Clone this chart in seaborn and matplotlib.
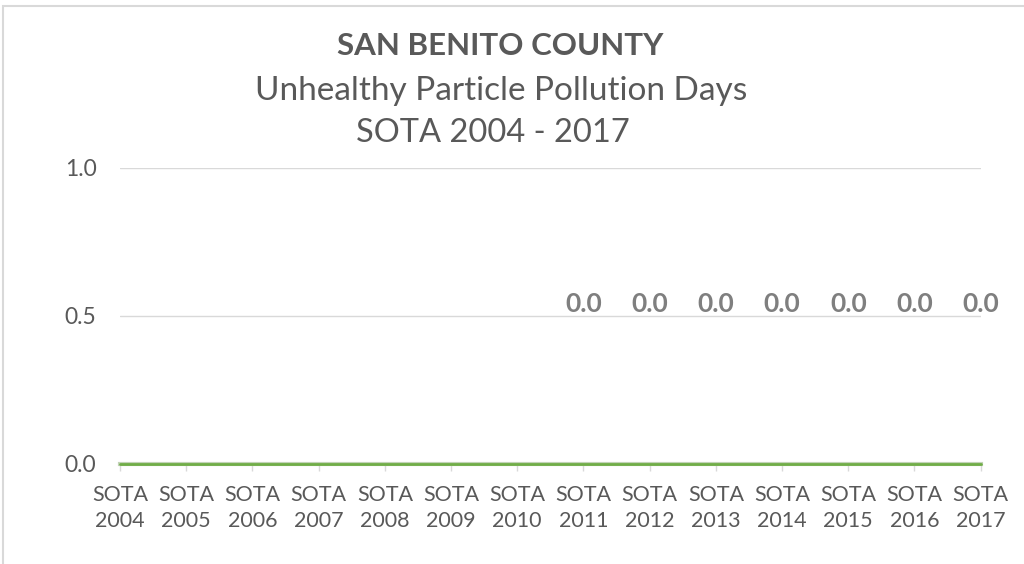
import matplotlib
matplotlib.use("Agg")
import matplotlib.pyplot as plt
import seaborn as sns
import pandas as pd
from matplotlib.patches import Rectangle

years = ["SOTA\n2004", "SOTA\n2005", "SOTA\n2006", "SOTA\n2007", "SOTA\n2008", "SOTA\n2009",
         "SOTA\n2010", "SOTA\n2011", "SOTA\n2012", "SOTA\n2013", "SOTA\n2014", "SOTA\n2015",
         "SOTA\n2016", "SOTA\n2017"]
values = [0, 0, 0, 0, 0, 0, 0, 0, 0, 0, 0, 0, 0, 0]
labels = [None, None, None, None, None, None, None, "0.0", "0.0", "0.0", "0.0", "0.0", "0.0", "0.0"]
yticks = [0.0, 0.5, 1.0]
title_lines = ["SAN BENITO COUNTY", "Unhealthy Particle Pollution Days", "SOTA 2004 - 2017"]

sns.set_style("white")
plt.rcParams['font.family'] = ['Lato', 'DejaVu Sans']

W, H = 1024, 564
fig = plt.figure(figsize=(W / 100, H / 100), dpi=100)
ax = fig.add_axes([120 / W, 1 - 464 / H, (980.7 - 120) / W, (464 - 168) / H])

df = pd.DataFrame({"x": list(range(len(years))), "v": values})
sns.lineplot(data=df, x="x", y="v", ax=ax, color="#70ad47", linewidth=2.0, zorder=5)
for l in ax.lines:
    l.set_clip_on(False)

ax.set_xlim(0, len(years) - 1)
ax.set_ylim(0, 1)
ax.set_yticks(yticks)
ax.set_yticklabels([f"{t:.1f}" for t in yticks])
ax.set_xticks(range(len(years)))
ax.set_xticklabels(years, linespacing=1.4)
ax.set_xlabel("")
ax.set_ylabel("")

for t in yticks[1:]:
    ax.axhline(t, color="#d9d9d9", linewidth=1.0, zorder=1)

for s in ["top", "right", "left"]:
    ax.spines[s].set_visible(False)
ax.spines["bottom"].set_color("#c3d3b8")
ax.spines["bottom"].set_linewidth(3.0)
ax.spines["bottom"].set_zorder(4)

ax.tick_params(axis="x", which="both", length=5, width=1, color="#d9d9d9",
               labelsize=15.5, labelcolor="#595959", pad=10, direction="out")
ax.tick_params(axis="y", length=0, labelsize=16.5, labelcolor="#595959", pad=17)
ax.tick_params(axis="x", bottom=True)

for i, (v, lab) in enumerate(zip(values, labels)):
    if lab:
        ax.annotate(lab, (i, v), xytext=(0, 160), textcoords="offset pixels",
                    ha="center", va="center", fontsize=19, fontweight="bold",
                    color="#7f7f7f", annotation_clip=False)

fig.text(500 / W, 1 - 55 / H, title_lines[0], ha="center", va="baseline",
         fontsize=22.5, fontweight="bold", color="#595959")
fig.text(501 / W, 1 - 100 / H, title_lines[1], ha="center", va="baseline",
         fontsize=24, color="#595959")
fig.text(493 / W, 1 - 142 / H, title_lines[2], ha="center", va="baseline",
         fontsize=23.5, color="#595959")

fig.patches.append(Rectangle((3 / W, -0.1), 1.2, 1 - 6 / H + 0.1, transform=fig.transFigure,
                             fill=False, edgecolor="#d9d9d9", linewidth=1.5))

fig.savefig("out.png", dpi=100, facecolor="white")
